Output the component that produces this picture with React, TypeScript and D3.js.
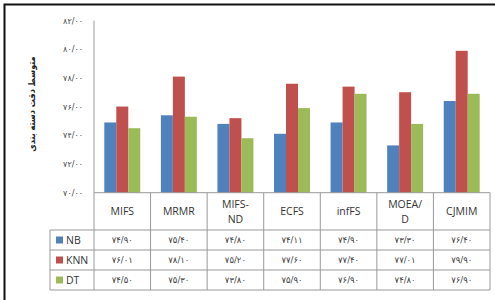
import React, { useEffect, useRef } from 'react';
import * as d3 from 'd3';

const categories = ['MIFS', 'MRMR', 'MIFS-ND', 'ECFS', 'infFS', 'MOEA/D', 'CJMIM'];
const headerLines = [['MIFS'], ['MRMR'], ['MIFS-', 'ND'], ['ECFS'], ['infFS'], ['MOEA/', 'D'], ['CJMIM']];
const seriesNames = ['NB', 'KNN', 'DT'];
const nb = [74.9, 75.4, 74.8, 74.11, 74.9, 73.3, 76.4];
const knn = [76.01, 78.1, 75.2, 77.6, 77.4, 77.01, 79.9];
const dt = [74.5, 75.3, 73.8, 75.9, 76.9, 74.8, 76.9];
const yTicks = [70, 72, 74, 76, 78, 80, 82];
const colors = ['#4F81BD', '#C0504D', '#9BBB59'];

const faDigits = '۰۱۲۳۴۵۶۷۸۹';
const toFa = (v: number) =>
  d3.format('.2f')(v).replace(/\d/g, (c) => faDigits[+c]).replace('.', '/');

export default function App() {
  const ref = useRef<SVGSVGElement>(null);

  useEffect(() => {
    const w = 495, h = 300;
    const svg = d3.select(ref.current);
    svg.selectAll('*').remove();

    const values = [nb, knn, dt];
    const left = 94, right = 490, top = 20.7, bottom = 192.7;
    const headerBottom = 230, rowH = 20, legendLeft = 50;

    const x = d3.scaleBand().domain(categories).range([left, right]);
    const xs = d3.scaleBand().domain(seriesNames).range([0, x.bandwidth()]).paddingOuter(0.86);
    const y = d3.scaleLinear().domain([70, 82]).range([bottom, top]);

    // outer frame
    svg.append('rect')
      .attr('x', 4.5).attr('y', 4.5)
      .attr('width', 600).attr('height', 400)
      .attr('fill', 'white').attr('stroke', '#111').attr('stroke-width', 2);

    // bars
    seriesNames.forEach((s, si) => {
      svg.append('g').attr('fill', colors[si])
        .selectAll('rect')
        .data(values[si])
        .enter()
        .append('rect')
          .attr('x', (d, i) => x(categories[i])! + xs(s)!)
          .attr('y', (d) => y(d))
          .attr('width', xs.bandwidth())
          .attr('height', (d) => y(70) - y(d));
    });

    // y axis
    svg.append('line')
      .attr('x1', left).attr('x2', left).attr('y1', top).attr('y2', bottom)
      .attr('stroke', '#999');
    svg.append('g')
      .selectAll('text')
      .data(yTicks)
      .enter()
      .append('text')
        .attr('x', 83)
        .attr('y', (d) => y(d))
        .attr('dy', '0.35em')
        .attr('text-anchor', 'end')
        .attr('font-family', 'DejaVu Sans')
        .attr('font-size', 8)
        .attr('fill', '#444')
        .text((d) => toFa(d));

    svg.append('text')
      .attr('transform', 'translate(32,104) rotate(-90)')
      .attr('text-anchor', 'middle')
      .attr('dy', '0.35em')
      .attr('font-family', 'DejaVu Sans Condensed, DejaVu Sans')
      .attr('font-weight', 'bold')
      .attr('font-size', 9)
      .attr('fill', '#222')
      .text('متوسط دقت دسته بندی');

    // data table
    const grid = svg.append('g').attr('stroke', '#999').attr('stroke-width', 1);
    grid.append('line').attr('x1', left).attr('x2', right).attr('y1', bottom).attr('y2', bottom);
    d3.range(4).forEach((r) => {
      const yy = headerBottom + r * rowH;
      grid.append('line').attr('x1', legendLeft).attr('x2', right).attr('y1', yy).attr('y2', yy);
    });
    categories.forEach((c) => {
      grid.append('line').attr('x1', x(c)!).attr('x2', x(c)!).attr('y1', bottom).attr('y2', headerBottom + 3 * rowH);
    });
    grid.append('line').attr('x1', right).attr('x2', right).attr('y1', bottom).attr('y2', headerBottom + 3 * rowH);
    grid.append('line').attr('x1', legendLeft).attr('x2', legendLeft).attr('y1', headerBottom).attr('y2', headerBottom + 3 * rowH);

    categories.forEach((c, i) => {
      const lines = headerLines[i];
      const cx = x(c)! + x.bandwidth() / 2;
      const mid = (bottom + headerBottom) / 2;
      lines.forEach((ln, li) => {
        svg.append('text')
          .attr('x', cx)
          .attr('y', mid + (li - (lines.length - 1) / 2) * 15)
          .attr('dy', '0.35em')
          .attr('text-anchor', 'middle')
          .attr('font-family', 'Open Sans, sans-serif')
          .attr('font-size', 10.5)
          .attr('fill', '#333')
          .text(ln);
      });
    });

    seriesNames.forEach((s, si) => {
      const cy = headerBottom + si * rowH + rowH / 2;
      svg.append('rect')
        .attr('x', 56).attr('y', cy - 3.5).attr('width', 7).attr('height', 7)
        .attr('fill', colors[si]);
      svg.append('text')
        .attr('x', 66).attr('y', cy).attr('dy', '0.35em')
        .attr('font-family', 'Open Sans, sans-serif')
        .attr('font-size', 10.5)
        .attr('fill', '#333')
        .text(s);
      svg.append('g')
        .selectAll('text')
        .data(values[si])
        .enter()
        .append('text')
          .attr('x', (d, i) => x(categories[i])! + x.bandwidth() / 2)
          .attr('y', cy)
          .attr('dy', '0.35em')
          .attr('text-anchor', 'middle')
          .attr('font-family', 'DejaVu Sans')
          .attr('font-size', 8.5)
          .attr('fill', '#444')
          .text((d) => toFa(d));
    });

    svg.attr('width', w).attr('height', h);
  }, []);

  return (
    <svg ref={ref} width={495} height={300} style={{ position: 'absolute', left: 0, top: 0, background: 'white' }} />
  );
}
